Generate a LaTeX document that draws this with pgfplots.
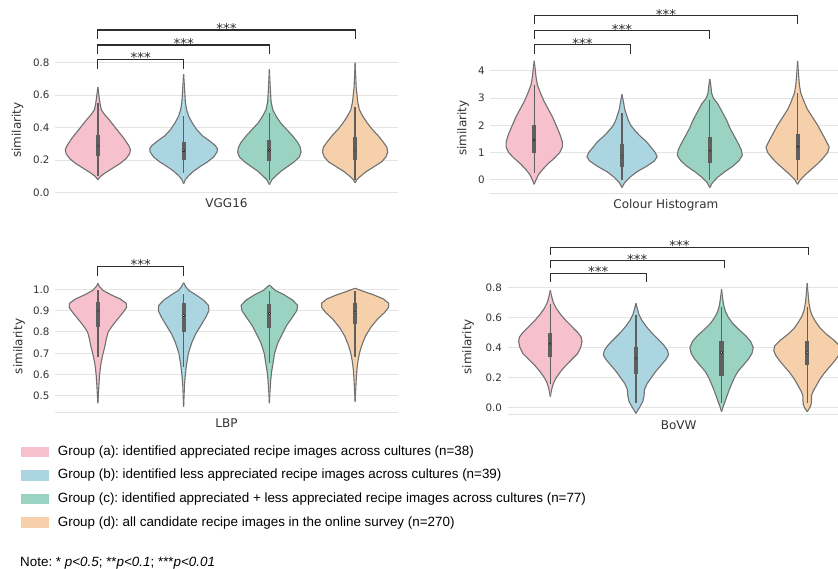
\documentclass[border=0pt]{standalone}
\usepackage{fontspec}
\setmainfont{DejaVu Sans}
\newfontfamily\legfont{Liberation Sans}
\usepackage{pgfplots}
\usepackage{pgfplotstable}
\pgfplotsset{compat=1.18}
\definecolor{cA}{RGB}{246,192,204}
\definecolor{cB}{RGB}{172,213,226}
\definecolor{cC}{RGB}{155,211,195}
\definecolor{cD}{RGB}{245,208,170}
\definecolor{vout}{RGB}{112,112,112}
\definecolor{boxc}{RGB}{95,95,95}
\definecolor{gridc}{RGB}{228,228,228}
\definecolor{txt}{RGB}{50,50,50}
\definecolor{brk}{RGB}{45,45,45}

% ---------- VGG16 ----------
\pgfplotstableread{
y w
0.08 0
0.10 0.03
0.12 0.08
0.15 0.17
0.18 0.26
0.21 0.33
0.24 0.37
0.265 0.38
0.29 0.36
0.33 0.31
0.37 0.25
0.41 0.19
0.45 0.13
0.48 0.08
0.51 0.04
0.55 0.025
0.60 0.012
0.65 0
}\vgA
\pgfplotstableread{
y w
0.055 0
0.08 0.02
0.10 0.05
0.13 0.11
0.16 0.19
0.19 0.28
0.22 0.35
0.25 0.39
0.27 0.395
0.29 0.37
0.32 0.30
0.35 0.22
0.39 0.15
0.43 0.10
0.47 0.06
0.51 0.035
0.56 0.02
0.65 0.01
0.73 0
}\vgB
\pgfplotstableread{
y w
0.05 0
0.08 0.03
0.10 0.07
0.13 0.13
0.16 0.21
0.19 0.29
0.22 0.35
0.25 0.37
0.28 0.36
0.31 0.33
0.35 0.27
0.39 0.20
0.43 0.13
0.47 0.08
0.51 0.04
0.56 0.02
0.65 0.01
0.76 0
}\vgC
\pgfplotstableread{
y w
0.06 0
0.08 0.02
0.10 0.06
0.13 0.13
0.16 0.22
0.19 0.31
0.22 0.36
0.25 0.38
0.28 0.37
0.31 0.33
0.35 0.27
0.39 0.20
0.43 0.14
0.47 0.09
0.51 0.05
0.56 0.03
0.65 0.012
0.80 0
}\vgD
% ---------- Colour Histogram ----------
\pgfplotstableread{
y w
-0.16 0
0.0 0.02
0.2 0.05
0.4 0.10
0.6 0.16
0.8 0.23
1.0 0.29
1.2 0.32
1.4 0.32
1.7 0.29
2.0 0.25
2.3 0.21
2.6 0.16
2.9 0.11
3.2 0.07
3.5 0.035
3.8 0.02
4.1 0.01
4.37 0
}\chA
\pgfplotstableread{
y w
-0.28 0
-0.1 0.03
0.1 0.09
0.3 0.17
0.5 0.28
0.7 0.37
0.85 0.40
1.0 0.38
1.2 0.33
1.4 0.28
1.6 0.21
1.8 0.15
2.0 0.10
2.2 0.07
2.4 0.05
2.6 0.03
2.8 0.02
3.14 0
}\chB
\pgfplotstableread{
y w
-0.28 0
-0.1 0.03
0.1 0.09
0.3 0.17
0.5 0.26
0.7 0.33
0.9 0.37
1.1 0.36
1.3 0.33
1.6 0.28
1.9 0.23
2.2 0.19
2.5 0.14
2.8 0.09
3.0 0.04
3.2 0.02
3.5 0.01
3.7 0
}\chC
\pgfplotstableread{
y w
-0.16 0
0.0 0.03
0.2 0.09
0.4 0.16
0.6 0.23
0.8 0.29
1.0 0.34
1.2 0.36
1.4 0.33
1.7 0.28
2.0 0.23
2.3 0.17
2.6 0.11
2.9 0.07
3.2 0.035
3.5 0.02
3.9 0.01
4.37 0
}\chD
% ---------- LBP ----------
\pgfplotstableread{
y w
0.466 0
0.50 0.005
0.55 0.012
0.60 0.02
0.65 0.035
0.69 0.055
0.73 0.08
0.77 0.10
0.80 0.12
0.83 0.17
0.86 0.23
0.89 0.29
0.915 0.335
0.935 0.33
0.955 0.26
0.975 0.15
0.995 0.06
1.015 0.015
1.028 0
}\lbA
\pgfplotstableread{
y w
0.45 0
0.50 0.005
0.55 0.01
0.60 0.02
0.65 0.035
0.70 0.055
0.75 0.095
0.79 0.14
0.83 0.20
0.87 0.26
0.90 0.295
0.925 0.29
0.95 0.23
0.975 0.14
0.995 0.06
1.015 0.02
1.031 0
}\lbB
\pgfplotstableread{
y w
0.466 0
0.52 0.007
0.57 0.015
0.61 0.025
0.66 0.045
0.70 0.06
0.75 0.10
0.79 0.15
0.83 0.20
0.87 0.27
0.90 0.32
0.925 0.33
0.95 0.27
0.975 0.17
0.995 0.07
1.02 0
}\lbC
\pgfplotstableread{
y w
0.473 0
0.52 0.006
0.57 0.012
0.62 0.02
0.66 0.032
0.70 0.05
0.74 0.08
0.78 0.12
0.82 0.18
0.86 0.26
0.89 0.34
0.915 0.39
0.935 0.39
0.955 0.33
0.975 0.21
0.99 0.10
1.005 0
}\lbD
% ---------- BoVW ----------
\pgfplotstableread{
y w
0.073 0
0.12 0.015
0.16 0.035
0.20 0.07
0.24 0.12
0.28 0.18
0.32 0.25
0.36 0.32
0.40 0.355
0.44 0.37
0.47 0.36
0.50 0.32
0.54 0.25
0.58 0.18
0.62 0.12
0.66 0.07
0.70 0.035
0.74 0.015
0.782 0
}\bwA
\pgfplotstableread{
y w
-0.038 0
0.0 0.04
0.04 0.08
0.08 0.095
0.12 0.10
0.16 0.13
0.20 0.18
0.24 0.23
0.28 0.29
0.32 0.35
0.35 0.38
0.38 0.37
0.42 0.32
0.46 0.25
0.50 0.18
0.54 0.12
0.58 0.07
0.62 0.035
0.66 0.015
0.694 0
}\bwB
\pgfplotstableread{
y w
-0.027 0
0.01 0.02
0.04 0.04
0.08 0.065
0.12 0.09
0.16 0.12
0.20 0.15
0.24 0.19
0.28 0.25
0.32 0.31
0.36 0.355
0.40 0.37
0.44 0.34
0.48 0.28
0.52 0.20
0.56 0.13
0.60 0.08
0.64 0.045
0.68 0.025
0.73 0.012
0.787 0
}\bwC
\pgfplotstableread{
y w
-0.027 0
0.0 0.03
0.02 0.045
0.05 0.05
0.08 0.05
0.11 0.07
0.15 0.11
0.19 0.15
0.23 0.20
0.27 0.26
0.31 0.32
0.35 0.37
0.38 0.39
0.41 0.38
0.45 0.31
0.49 0.22
0.53 0.15
0.57 0.10
0.61 0.06
0.65 0.035
0.70 0.02
0.76 0.01
0.827 0
}\bwD

\newcommand{\violin}[3]{%
  \addplot[fill=#3, draw=vout, line width=1.1bp] table[x expr=#1+\thisrow{w}, y=y] {#2};
  \addplot[fill=#3, draw=vout, line width=1.1bp] table[x expr=#1-\thisrow{w}, y=y] {#2};
}
\newcommand{\ibox}[6]{%
  \addplot[boxc, line width=1.3bp] coordinates {(#1,#2) (#1,#6)};
  \addplot[boxc, line width=4.2bp] coordinates {(#1,#3) (#1,#5)};
  \addplot[only marks, mark=*, mark size=1.1bp, mark options={fill=white, draw=none}] coordinates {(#1,#4)};
}
\newcommand{\bracket}[5]{%
  \addplot[brk, line width=1.1bp] coordinates {(#1,#4) (#1,#3) (#2,#3) (#2,#4)};
  \node[font=\fontsize{13.5bp}{15bp}\selectfont, text=brk, anchor=base, inner sep=0pt, yshift=-3.6bp] at (axis cs:#5,#3) {***};
}

\pgfplotsset{
  vstyle/.style={
    scale only axis, anchor=south west, clip=false,
    axis line style={draw=none},
    xtick=\empty,
    ymajorgrids, grid style={gridc, line width=1bp},
    major tick length=0pt,
    tick label style={font=\fontsize{10.3bp}{12bp}\selectfont, text=txt},
    yticklabel style={xshift=-2bp},
    /pgf/number format/assume math mode=true,
    label style={font=\fontsize{12bp}{14bp}\selectfont, text=txt},
    ylabel={similarity},
  },
  dec/.style={yticklabel style={/pgf/number format/.cd, fixed, fixed zerofill, precision=1}},
}

\begin{document}
\frenchspacing
\begin{tikzpicture}
\useasboundingbox (0bp,0bp) rectangle (838bp,569bp);

% ===== VGG16 =====
\begin{axis}[vstyle, dec, at={(55bp,376.3bp)}, width=343bp, height=133.25bp,
  xmin=-0.5, xmax=3.5, ymin=0, ymax=0.82, ytick={0,0.2,0.4,0.6,0.8},
  xlabel={VGG16},
  xlabel style={at={(rel axis cs:0.5,0)}, anchor=center, yshift=-10.3bp},
  ylabel style={at={(rel axis cs:-0.1093,0.47)}, anchor=center}]
\addplot[gridc, line width=1bp] coordinates {(-0.5,0) (3.5,0)};
\violin{0}{\vgA}{cA}
\violin{1}{\vgB}{cB}
\violin{2}{\vgC}{cC}
\violin{3}{\vgD}{cD}
\ibox{0}{0.10}{0.226}{0.287}{0.355}{0.55}
\ibox{1}{0.12}{0.20}{0.258}{0.314}{0.47}
\ibox{2}{0.08}{0.197}{0.26}{0.324}{0.49}
\ibox{3}{0.08}{0.20}{0.265}{0.34}{0.53}
\bracket{0}{1}{0.821}{0.76}{0.5}
\bracket{0}{2}{0.909}{0.852}{1}
\bracket{0}{3}{1.001}{0.946}{1.5}
\end{axis}

% ===== Colour Histogram =====
\begin{axis}[vstyle, at={(490.3bp,375.7bp)}, width=347.7bp, height=133.3bp,
  xmin=-0.5, xmax=3.46, ymin=-0.49, ymax=4.4, ytick={0,1,2,3,4},
  xlabel={Colour Histogram},
  xlabel style={at={(rel axis cs:0.505,0)}, anchor=center, yshift=-11.7bp},
  ylabel style={at={(rel axis cs:-0.0785,0.49)}, anchor=center}]
\addplot[gridc, line width=1bp] coordinates {(-0.5,-0.49) (3.46,-0.49)};
\violin{0}{\chA}{cA}
\violin{1}{\chB}{cB}
\violin{2}{\chC}{cC}
\violin{3}{\chD}{cD}
\ibox{0}{0.24}{0.98}{1.47}{2.02}{3.49}
\ibox{1}{0.0}{0.49}{0.86}{1.32}{2.45}
\ibox{2}{0.0}{0.61}{1.06}{1.57}{2.94}
\ibox{3}{0.0}{0.73}{1.2}{1.68}{3.18}
\bracket{0}{1.1}{4.954}{4.62}{0.55}
\bracket{0}{2}{5.48}{5.16}{1}
\bracket{0}{3}{6.03}{5.71}{1.5}
\end{axis}

% ===== LBP =====
\begin{axis}[vstyle, dec, at={(55bp,156.7bp)}, width=343bp, height=131.5bp,
  xmin=-0.5, xmax=3.5, ymin=0.4235, ymax=1.04, ytick={0.5,0.6,0.7,0.8,0.9,1.0},
  xlabel={LBP},
  xlabel style={at={(rel axis cs:0.5,0)}, anchor=center, yshift=-10.4bp},
  ylabel style={at={(rel axis cs:-0.105,0.50)}, anchor=center},
  legend image code/.code={\fill[#1] (0bp,-5.3bp) rectangle (28bp,5.3bp);},
  legend cell align=left,
  legend style={at={(rel axis cs:-0.0991,-0.253)}, anchor=north west,
    draw=none, fill=none, inner sep=0pt, row sep=11.2bp,
    font=\legfont\fontsize{13.4bp}{15bp}\selectfont, text=black,
    nodes={inner sep=0pt, text height=9.6bp, text depth=2.8bp},
    /tikz/every odd column/.append style={column sep=8.7bp}}]
\addlegendimage{fill=cA, draw=none}
\addlegendentry{Group (a): identified appreciated recipe images across cultures (n=38)}
\addlegendimage{fill=cB, draw=none}
\addlegendentry{Group (b): identified less appreciated recipe images across cultures (n=39)}
\addlegendimage{fill=cC, draw=none}
\addlegendentry{Group (c): identified appreciated + less appreciated recipe images across cultures (n=77)}
\addlegendimage{fill=cD, draw=none}
\addlegendentry{Group (d): all candidate recipe images in the online survey (n=270)}
\addplot[gridc, line width=1bp, forget plot] coordinates {(-0.5,0.4235) (3.5,0.4235)};
\violin{0}{\lbA}{cA}
\violin{1}{\lbB}{cB}
\violin{2}{\lbC}{cC}
\violin{3}{\lbD}{cD}
\ibox{0}{0.684}{0.825}{0.898}{0.942}{0.997}
\ibox{1}{0.637}{0.80}{0.877}{0.934}{0.98}
\ibox{2}{0.656}{0.817}{0.887}{0.93}{0.99}
\ibox{3}{0.684}{0.836}{0.892}{0.934}{0.99}
\bracket{0}{1}{1.109}{1.064}{0.5}
\end{axis}

% ===== BoVW =====
\begin{axis}[vstyle, dec, at={(507.5bp,154bp)}, width=330.5bp, height=133.7bp,
  xmin=-0.5, xmax=3.36, ymin=-0.0485, ymax=0.84, ytick={0,0.2,0.4,0.6,0.8},
  xlabel={BoVW},
  xlabel style={at={(rel axis cs:0.518,0)}, anchor=center, yshift=-10.5bp},
  ylabel style={at={(rel axis cs:-0.1195,0.51)}, anchor=center}]
\addplot[gridc, line width=1bp] coordinates {(-0.5,-0.0485) (3.36,-0.0485)};
\violin{0}{\bwA}{cA}
\violin{1}{\bwB}{cB}
\violin{2}{\bwC}{cC}
\violin{3}{\bwD}{cD}
\ibox{0}{0.16}{0.339}{0.423}{0.499}{0.69}
\ibox{1}{0.029}{0.224}{0.328}{0.401}{0.616}
\ibox{2}{0.03}{0.21}{0.366}{0.445}{0.67}
\ibox{3}{0.03}{0.284}{0.366}{0.445}{0.67}
\bracket{0}{1.12}{0.893}{0.837}{0.56}
\bracket{0}{2.03}{0.977}{0.926}{1.015}
\bracket{0}{3.02}{1.066}{1.015}{1.51}
\end{axis}

\node[anchor=west, inner sep=0pt, font=\legfont\fontsize{13.4bp}{15bp}\selectfont] at (20bp,6bp)
  {Note: * \textit{p<0.5}; **\textit{p<0.1}; ***\textit{p<0.01}};
\end{tikzpicture}
\end{document}
